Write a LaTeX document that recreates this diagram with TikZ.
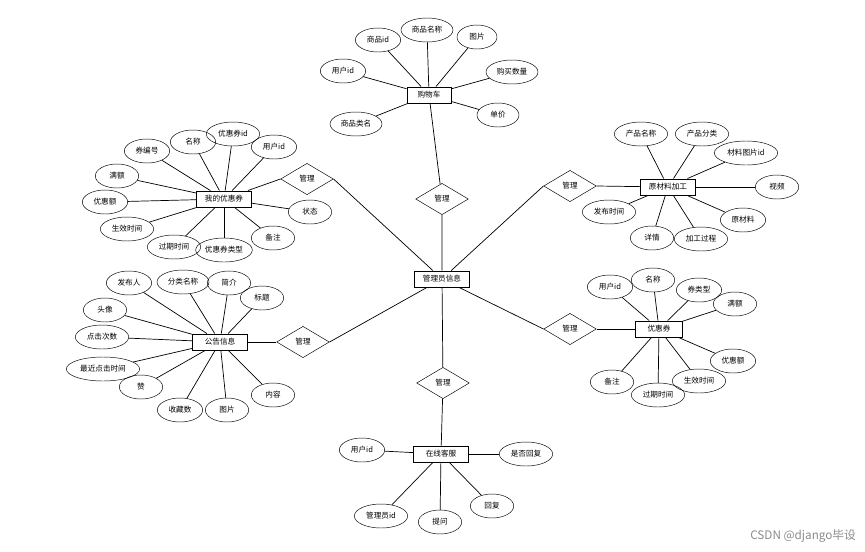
\documentclass[tikz,border=0pt]{standalone}
\usepackage{fontspec}
\setmainfont{Noto Sans CJK SC}
\usetikzlibrary{shapes.geometric}

\begin{document}
\begin{tikzpicture}[x=0.03cm, y=-0.03cm,
    every node/.style={font=\fontsize{6.5}{7}\selectfont},
    entity/.style={draw, thick, rectangle, minimum width=1.66cm, minimum height=0.48cm, inner sep=1pt},
    attr/.style={draw, ellipse, minimum width=1.36cm, minimum height=0.72cm, inner sep=0.5pt},
    rel/.style={draw, diamond, aspect=1.65, minimum width=1.58cm, minimum height=0.94cm, inner sep=0pt},
    link/.style={semithick}]
    \useasboundingbox (0, 0) rectangle (865, 551);
    \fill[white] (0, 0) rectangle (865, 551);

    % centre
    \node[entity] (admin) at (442, 279) {管理员信息};

    % cart
    \node[entity, minimum width=1.32cm] (cart) at (429, 95) {购物车};
    \node[attr] (cartGid) at (378, 40) {商品id};
    \node[attr, minimum width=1.56cm] (cartName) at (427, 30) {商品名称};
    \node[attr, minimum width=1.2cm] (cartPic) at (477, 37) {图片};
    \node[attr] (cartUid) at (343, 71) {用户id};
    \node[attr, minimum width=1.56cm] (cartNum) at (512, 72) {购买数量};
    \node[attr, minimum width=1.56cm] (cartType) at (356, 124) {商品类名};
    \node[attr, minimum width=1.26cm] (cartPrice) at (498, 115) {单价};
    \node[rel] (relCart) at (442, 199) {管理};
    \foreach \a in {cartGid, cartName, cartPic, cartUid, cartNum, cartType, cartPrice}
        \draw[link] (cart) -- (\a);
    \draw[link] (cart) -- (relCart) -- (admin);

    % my coupons
    \node[entity] (myCoupon) at (224, 199) {我的优惠券};
    \node[attr] (myNo) at (147, 151) {券编号};
    \node[attr] (myName) at (193, 142) {名称};
    \node[attr, minimum width=1.6cm] (myCid) at (233, 134) {优惠券id};
    \node[attr] (myUid) at (274, 147) {用户id};
    \node[attr, minimum width=1.3cm] (myFull) at (117, 176) {满额};
    \node[attr] (myOff) at (105, 202) {优惠额};
    \node[attr, minimum width=1.6cm] (myStart) at (127, 229) {生效时间};
    \node[attr, minimum width=1.6cm] (myEnd) at (174, 247) {过期时间};
    \node[attr, minimum width=1.7cm] (myType) at (224, 250) {优惠券类型};
    \node[attr, minimum width=1.3cm] (myNote) at (273, 238) {备注};
    \node[attr, minimum width=1.3cm] (myState) at (310, 212) {状态};
    \node[rel] (relMy) at (307, 179) {管理};
    \foreach \a in {myNo, myName, myCid, myUid, myFull, myOff, myStart, myEnd, myType, myNote, myState}
        \draw[link] (myCoupon) -- (\a);
    \draw[link] (myCoupon) -- (relMy.west);
    \draw[link] (relMy.east) -- (admin);

    % notices
    \node[entity] (notice) at (220, 342) {公告信息};
    \node[attr] (ntPub) at (129, 283) {发布人};
    \node[attr, minimum width=1.56cm] (ntCat) at (183, 282) {分类名称};
    \node[attr, minimum width=1.3cm] (ntIntro) at (229, 283) {简介};
    \node[attr, minimum width=1.3cm] (ntTitle) at (262, 298) {标题};
    \node[attr, minimum width=1.3cm] (ntHead) at (105, 310) {头像};
    \node[attr, minimum width=1.6cm] (ntClick) at (102, 337) {点击次数};
    \node[attr, minimum width=2.2cm] (ntLast) at (103, 369) {最近点击时间};
    \node[attr, minimum width=1.3cm] (ntLike) at (141, 387) {赞};
    \node[attr] (ntFav) at (180, 410) {收藏数};
    \node[attr, minimum width=1.3cm] (ntPic) at (227, 410) {图片};
    \node[attr, minimum width=1.3cm] (ntBody) at (273, 395) {内容};
    \node[rel] (relNotice) at (303, 342) {管理};
    \foreach \a in {ntPub, ntCat, ntIntro, ntTitle, ntHead, ntClick, ntLast, ntLike, ntFav, ntPic, ntBody}
        \draw[link] (notice) -- (\a);
    \draw[link] (notice) -- (relNotice.west);
    \draw[link] (relNotice.east) -- (admin);

    % raw material processing
    \node[entity] (material) at (668, 187) {原材料加工};
    \node[attr, minimum width=1.6cm] (mtName) at (641, 134) {产品名称};
    \node[attr, minimum width=1.6cm] (mtCat) at (702, 134) {产品分类};
    \node[attr, minimum width=1.9cm] (mtPic) at (746, 153) {材料图片id};
    \node[attr, minimum width=1.3cm] (mtVideo) at (777, 187) {视频};
    \node[attr] (mtRaw) at (743, 220) {原材料};
    \node[attr, minimum width=1.6cm] (mtProc) at (701, 239) {加工过程};
    \node[attr, minimum width=1.3cm] (mtDetail) at (652, 238) {详情};
    \node[attr, minimum width=1.6cm] (mtTime) at (609, 212) {发布时间};
    \node[rel] (relMaterial) at (570, 186) {管理};
    \foreach \a in {mtName, mtCat, mtPic, mtVideo, mtRaw, mtProc, mtDetail, mtTime}
        \draw[link] (material) -- (\a);
    \draw[link] (material) -- (relMaterial.east);
    \draw[link] (relMaterial.west) -- (admin);

    % coupons
    \node[entity, minimum width=1.4cm] (coupon) at (659, 329) {优惠券};
    \node[attr] (cpUid) at (610, 287) {用户id};
    \node[attr, minimum width=1.3cm] (cpName) at (653, 280) {名称};
    \node[attr] (cpType) at (699, 290) {券类型};
    \node[attr, minimum width=1.3cm] (cpFull) at (735, 304) {满额};
    \node[attr] (cpOff) at (733, 361) {优惠额};
    \node[attr, minimum width=1.6cm] (cpStart) at (699, 381) {生效时间};
    \node[attr, minimum width=1.6cm] (cpEnd) at (658, 395) {过期时间};
    \node[attr, minimum width=1.3cm] (cpNote) at (612, 382) {备注};
    \node[rel] (relCoupon) at (570, 329) {管理};
    \foreach \a in {cpUid, cpName, cpType, cpFull, cpOff, cpStart, cpEnd, cpNote}
        \draw[link] (coupon) -- (\a);
    \draw[link] (coupon) -- (relCoupon.east);
    \draw[link] (relCoupon.west) -- (admin);

    % online service
    \node[entity] (service) at (441, 454) {在线客服};
    \node[attr] (svUid) at (362, 450) {用户id};
    \node[attr, minimum width=1.6cm] (svReplied) at (526, 454) {是否回复};
    \node[attr, minimum width=1.3cm] (svReply) at (492, 506) {回复};
    \node[attr, minimum width=1.3cm] (svAsk) at (440, 522) {提问};
    \node[attr, minimum width=1.6cm] (svAid) at (381, 516) {管理员id};
    \node[rel] (relService) at (443, 383) {管理};
    \foreach \a in {svUid, svReplied, svReply, svAsk, svAid}
        \draw[link] (service) -- (\a);
    \draw[link] (service) -- (relService) -- (admin);

    \node[text=black!45, font=\fontsize{10}{12}\selectfont, anchor=east] (mark) at (860, 536) {CSDN @django毕设};
\end{tikzpicture}
\end{document}
